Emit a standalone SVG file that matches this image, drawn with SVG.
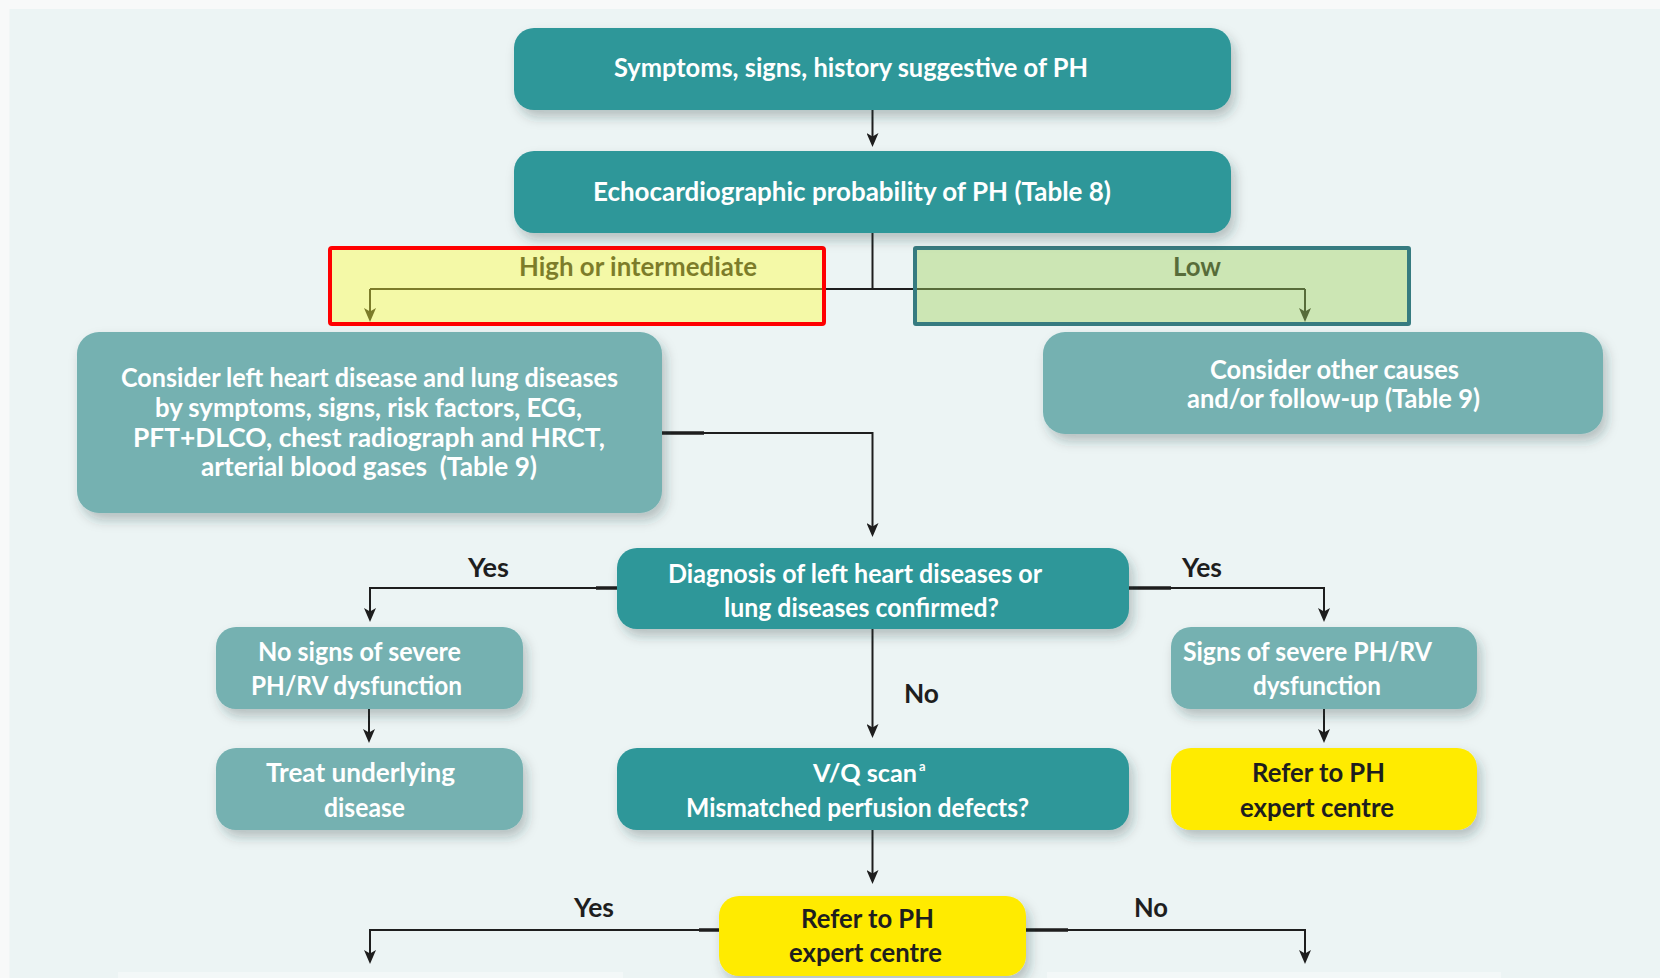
<svg xmlns="http://www.w3.org/2000/svg" width="1660" height="978" viewBox="0 0 1660 978">
  <style>
    .t { font-family: Lato, "Liberation Sans", "DejaVu Sans", sans-serif; font-weight: bold; font-size: 26.5px; }
    .w { fill: #ffffff; }
    .k { fill: #1e1e1e; }
    .dark { fill: #2e9799; }
    .light { fill: #74b1b1; }
    .yel { fill: #ffeb00; }
    .wire { fill: none; stroke: #1e1e1e; stroke-width: 2; }
    .stub { fill: none; stroke: #1e1e1e; stroke-width: 3.5; }
    .pre { white-space: pre; }
  </style>
  <defs>
    <filter id="sh" x="-10%" y="-20%" width="125%" height="160%">
      <feDropShadow dx="4" dy="7" stdDeviation="6" flood-color="#1d3b3b" flood-opacity="0.28"/>
    </filter>
    <marker id="ah" viewBox="0 0 14 12" refX="6" refY="6" markerWidth="14" markerHeight="12" markerUnits="userSpaceOnUse" orient="auto">
      <path d="M0,0 L14,6 L0,12 L3.5,6 z" fill="#1e1e1e"/>
    </marker>
  </defs>

  <!-- page and panel -->
  <rect x="0" y="0" width="1660" height="978" fill="#f8f9f9"/>
  <rect x="9.5" y="9" width="1651" height="969" fill="#ecf4f4"/>

  <!-- next row, cut off at the bottom edge -->
  <g id="next-row">
    <rect x="118" y="972" width="505" height="20" fill="#f3f8f8"/>
    <rect x="1047" y="972" width="454" height="20" fill="#f3f8f8"/>
  </g>

  <!-- connectors -->
  <g id="connectors">
    <path class="wire" d="M872.5,110 V139" marker-end="url(#ah)"/>
    <path class="wire" d="M872.5,233 V289"/>
    <path class="wire" d="M370,289 H1305"/>
    <path class="wire" d="M370,289 V314" marker-end="url(#ah)"/>
    <path class="wire" d="M1305,289 V314" marker-end="url(#ah)"/>
    <path class="wire" d="M662,433 H872.5 V529" marker-end="url(#ah)"/>
    <path class="wire" d="M617,588 H370 V614" marker-end="url(#ah)"/>
    <path class="wire" d="M1129,588 H1324 V614" marker-end="url(#ah)"/>
    <path class="wire" d="M872.5,629 V730" marker-end="url(#ah)"/>
    <path class="wire" d="M369,709 V735" marker-end="url(#ah)"/>
    <path class="wire" d="M1324,709 V735" marker-end="url(#ah)"/>
    <path class="wire" d="M872.5,830 V876" marker-end="url(#ah)"/>
    <path class="wire" d="M719,930 H370 V956" marker-end="url(#ah)"/>
    <path class="wire" d="M1026,930 H1305 V956" marker-end="url(#ah)"/>
    <!-- heavier stubs where lines leave a box -->
    <path class="stub" d="M662,433 H704"/>
    <path class="stub" d="M596,588 H617"/>
    <path class="stub" d="M1129,588 H1171"/>
    <path class="stub" d="M699,930 H719"/>
    <path class="stub" d="M1026,930 H1068"/>
  </g>

  <!-- branch labels -->
  <g id="labels">
    <text class="t k" x="519" y="276" textLength="238" lengthAdjust="spacingAndGlyphs">High or intermediate</text>
    <text class="t k" x="1173" y="276" textLength="48" lengthAdjust="spacingAndGlyphs">Low</text>
    <text class="t k" x="468" y="577" textLength="41" lengthAdjust="spacingAndGlyphs">Yes</text>
    <text class="t k" x="1182" y="577" textLength="40" lengthAdjust="spacingAndGlyphs">Yes</text>
    <text class="t k" x="904" y="703" textLength="35" lengthAdjust="spacingAndGlyphs">No</text>
    <text class="t k" x="574" y="917" textLength="40" lengthAdjust="spacingAndGlyphs">Yes</text>
    <text class="t k" x="1134" y="917" textLength="34" lengthAdjust="spacingAndGlyphs">No</text>
  </g>

  <!-- probability bands laid over the split -->
  <g id="band-high">
    <rect x="330" y="248" width="494" height="76" rx="2" fill="#ffff3c" fill-opacity="0.42" stroke="#ff0000" stroke-width="4"/>
  </g>
  <g id="band-low">
    <rect x="915" y="248" width="494" height="76" rx="1" fill="#a3d45f" fill-opacity="0.43" stroke="#367b80" stroke-width="4"/>
  </g>

  <!-- nodes -->
  <g id="node-symptoms">
    <rect class="dark" x="514" y="28" width="717" height="82" rx="20" filter="url(#sh)"/>
    <text class="t w" x="614" y="77" textLength="474" lengthAdjust="spacingAndGlyphs">Symptoms, signs, history suggestive of PH</text>
  </g>

  <g id="node-echo">
    <rect class="dark" x="514" y="151" width="717" height="82" rx="20" filter="url(#sh)"/>
    <text class="t w" x="593" y="201" textLength="518" lengthAdjust="spacingAndGlyphs">Echocardiographic probability of PH (Table 8)</text>
  </g>

  <g id="node-consider-lhd">
    <rect class="light" x="77" y="332" width="585" height="181" rx="22" filter="url(#sh)"/>
    <text class="t w" x="121" y="387" textLength="497" lengthAdjust="spacingAndGlyphs">Consider left heart disease and lung diseases</text>
    <text class="t w" x="155" y="417" textLength="427" lengthAdjust="spacingAndGlyphs">by symptoms, signs, risk factors, ECG,</text>
    <text class="t w" x="133" y="447" textLength="472" lengthAdjust="spacingAndGlyphs">PFT+DLCO, chest radiograph and HRCT,</text>
    <text class="t w pre" x="201" y="476" textLength="336" lengthAdjust="spacingAndGlyphs">arterial blood gases  (Table 9)</text>
  </g>

  <g id="node-other-causes">
    <rect class="light" x="1043" y="332" width="560" height="102" rx="22" filter="url(#sh)"/>
    <text class="t w" x="1210" y="379" textLength="249" lengthAdjust="spacingAndGlyphs">Consider other causes</text>
    <text class="t w" x="1187" y="408" textLength="293" lengthAdjust="spacingAndGlyphs">and/or follow-up (Table 9)</text>
  </g>

  <g id="node-diagnosis">
    <rect class="dark" x="617" y="548" width="512" height="81" rx="20" filter="url(#sh)"/>
    <text class="t w" x="668" y="583" textLength="374" lengthAdjust="spacingAndGlyphs">Diagnosis of left heart diseases or</text>
    <text class="t w" x="724" y="617" textLength="275" lengthAdjust="spacingAndGlyphs">lung diseases confirmed?</text>
  </g>

  <g id="node-no-severe">
    <rect class="light" x="216" y="627" width="307" height="82" rx="20" filter="url(#sh)"/>
    <text class="t w" x="258" y="661" textLength="203" lengthAdjust="spacingAndGlyphs">No signs of severe</text>
    <text class="t w" x="251" y="695" textLength="211" lengthAdjust="spacingAndGlyphs">PH/RV dysfunction</text>
  </g>

  <g id="node-severe">
    <rect class="light" x="1171" y="627" width="306" height="82" rx="20" filter="url(#sh)"/>
    <text class="t w" x="1183" y="661" textLength="249" lengthAdjust="spacingAndGlyphs">Signs of severe PH/RV</text>
    <text class="t w" x="1253" y="695" textLength="128" lengthAdjust="spacingAndGlyphs">dysfunction</text>
  </g>

  <g id="node-treat">
    <rect class="light" x="216" y="748" width="307" height="82" rx="20" filter="url(#sh)"/>
    <text class="t w" x="266" y="782" textLength="189" lengthAdjust="spacingAndGlyphs">Treat underlying</text>
    <text class="t w" x="324" y="817" textLength="81" lengthAdjust="spacingAndGlyphs">disease</text>
  </g>

  <g id="node-vq">
    <rect class="dark" x="617" y="748" width="512" height="82" rx="20" filter="url(#sh)"/>
    <text class="t w" x="813" y="782"><tspan style="font-size:24px" textLength="104" lengthAdjust="spacingAndGlyphs">V/Q scan</tspan><tspan x="919" y="771" style="font-size:13px">a</tspan></text>
    <text class="t w" x="686" y="817" textLength="343" lengthAdjust="spacingAndGlyphs">Mismatched perfusion defects?</text>
  </g>

  <g id="node-refer-right">
    <rect class="yel" x="1171" y="748" width="306" height="82" rx="20" filter="url(#sh)"/>
    <text class="t k" x="1252" y="782" textLength="133" lengthAdjust="spacingAndGlyphs">Refer to PH</text>
    <text class="t k" x="1240" y="817" textLength="154" lengthAdjust="spacingAndGlyphs">expert centre</text>
  </g>

  <g id="node-refer-centre">
    <rect class="yel" x="719" y="896" width="307" height="80" rx="20" filter="url(#sh)"/>
    <text class="t k" x="801" y="928" textLength="133" lengthAdjust="spacingAndGlyphs">Refer to PH</text>
    <text class="t k" x="789" y="962" textLength="153" lengthAdjust="spacingAndGlyphs">expert centre</text>
  </g>
</svg>
